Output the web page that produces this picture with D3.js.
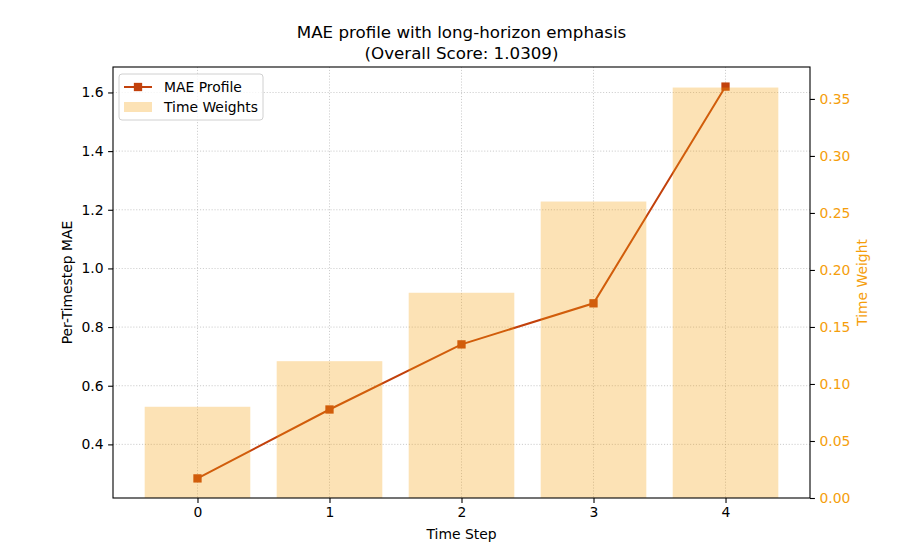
<!DOCTYPE html>
<html>
<head>
<meta charset="utf-8">
<script src="https://cdn.jsdelivr.net/npm/d3@7"></script>
<style>
  body { margin: 0; background: white; }
  text { font-family: "DejaVu Sans", sans-serif; }
</style>
</head>
<body>
<svg id="chart" width="900" height="560"></svg>
<script>
// values
const steps = [0, 1, 2, 3, 4];
const maeProfile = [0.284, 0.519, 0.741, 0.881, 1.620];
const timeWeights = [0.08, 0.12, 0.18, 0.26, 0.36];
const leftTicks = [0.4, 0.6, 0.8, 1.0, 1.2, 1.4, 1.6];
const rightTicks = [0, 0.05, 0.1, 0.15, 0.2, 0.25, 0.3, 0.35];
const overallScore = "1.0309";

var size = { width: 900, height: 560 };
var margin = { top: 67, right: 90, bottom: 62, left: 113 };
var innerW = size.width - margin.left - margin.right;
var innerH = size.height - margin.top - margin.bottom;

var lineColor = "#c2410c";
var barColor = "#f59e0b";
var rightColor = "#f59e0b";

var svg = d3.select("#chart");

var g = svg.append("g")
    .attr("transform", `translate(${margin.left},${margin.top})`);

// matplotlib-like 5% margins
var x = d3.scaleLinear().domain([-0.64, 4.64]).range([0, innerW]);
var maeMin = d3.min(maeProfile), maeMax = d3.max(maeProfile);
var pad = (maeMax - maeMin) * 0.05;
var yLeft = d3.scaleLinear().domain([maeMin - pad, maeMax + pad]).range([innerH, 0]);
var yRight = d3.scaleLinear().domain([0, d3.max(timeWeights) * 1.05]).range([innerH, 0]);

// grid
g.append("g").selectAll("line.hgrid")
    .data(leftTicks)
    .enter()
    .append("line")
    .attr("x1", 0).attr("x2", innerW)
    .attr("y1", d => yLeft(d)).attr("y2", d => yLeft(d))
    .attr("stroke", "#b0b0b0").attr("stroke-width", 0.8)
    .attr("stroke-dasharray", "1.1,1.8").attr("opacity", 0.8);
g.append("g").selectAll("line.vgrid")
    .data(steps)
    .enter()
    .append("line")
    .attr("y1", 0).attr("y2", innerH)
    .attr("x1", d => x(d)).attr("x2", d => x(d))
    .attr("stroke", "#b0b0b0").attr("stroke-width", 0.8)
    .attr("stroke-dasharray", "1.1,1.8").attr("opacity", 0.8);

// MAE line
var line = d3.line()
    .x((d, i) => x(steps[i]))
    .y(d => yLeft(d));

g.append("path")
    .datum(maeProfile)
    .attr("d", line)
    .attr("fill", "none")
    .attr("stroke", lineColor)
    .attr("stroke-width", 2);

var ms = 8.3;
g.selectAll(".marker")
    .data(maeProfile)
    .enter()
    .append("rect")
    .attr("class", "marker")
    .attr("x", (d, i) => x(steps[i]) - ms / 2)
    .attr("y", d => yLeft(d) - ms / 2)
    .attr("width", ms).attr("height", ms)
    .attr("fill", lineColor);

// weight bars, translucent on top like twinx
var barW = x(0.4) - x(-0.4);
g.selectAll(".bar")
    .data(timeWeights)
    .enter()
    .append("rect")
    .attr("class", "bar")
    .attr("x", (d, i) => x(steps[i]) - barW / 2)
    .attr("y", d => yRight(d))
    .attr("width", barW)
    .attr("height", d => innerH - yRight(d))
    .attr("fill", barColor)
    .attr("opacity", 0.3);

// axes
var xAxis = g.append("g")
    .attr("transform", `translate(0,${innerH})`)
    .call(d3.axisBottom(x).tickValues(steps).tickFormat(d3.format("d")).tickSize(4.9).tickPadding(4.5));
var lAxis = g.append("g")
    .call(d3.axisLeft(yLeft).tickValues(leftTicks).tickFormat(d3.format(".1f")).tickSize(4.9).tickPadding(4.5));
var rAxis = g.append("g")
    .attr("transform", `translate(${innerW},0)`)
    .call(d3.axisRight(yRight).tickValues(rightTicks).tickFormat(d3.format(".2f")).tickSize(4.9).tickPadding(4.5));

[xAxis, lAxis, rAxis].forEach(a => {
    a.select(".domain").remove();
    a.selectAll("text").attr("font-size", 13.9).attr("font-family", "DejaVu Sans").attr("fill", "#000");
    a.selectAll("line").attr("stroke", "#000").attr("stroke-width", 1.1);
});
rAxis.selectAll("text").attr("fill", rightColor);

// frame
g.append("rect")
    .attr("width", innerW).attr("height", innerH)
    .attr("fill", "none").attr("stroke", "#000").attr("stroke-width", 1.1);

// labels
svg.append("text")
    .attr("x", margin.left + innerW / 2).attr("y", 38)
    .attr("text-anchor", "middle").attr("font-size", 16.7)
    .text("MAE profile with long-horizon emphasis");
svg.append("text")
    .attr("x", margin.left + innerW / 2).attr("y", 59)
    .attr("text-anchor", "middle").attr("font-size", 16.7)
    .text("(Overall Score: " + overallScore + ")");
svg.append("text")
    .attr("x", margin.left + innerW / 2).attr("y", 539)
    .attr("text-anchor", "middle").attr("font-size", 13.9)
    .text("Time Step");
svg.append("text")
    .attr("transform", `translate(72,${margin.top + innerH / 2}) rotate(-90)`)
    .attr("text-anchor", "middle").attr("font-size", 13.9)
    .text("Per-Timestep MAE");
svg.append("text")
    .attr("transform", `translate(867,${margin.top + innerH / 2}) rotate(-90)`)
    .attr("text-anchor", "middle").attr("font-size", 13.9)
    .attr("fill", rightColor)
    .text("Time Weight");

// legend
var legend = g.append("g").attr("transform", "translate(6,7)");
legend.append("rect")
    .attr("width", 144).attr("height", 46).attr("rx", 3)
    .attr("fill", "white").attr("fill-opacity", 0.8)
    .attr("stroke", "#d0d0d0").attr("stroke-width", 1);
legend.append("line")
    .attr("x1", 5).attr("x2", 33).attr("y1", 13).attr("y2", 13)
    .attr("stroke", lineColor).attr("stroke-width", 2);
legend.append("rect")
    .attr("x", 19 - ms / 2).attr("y", 13 - ms / 2).attr("width", ms).attr("height", ms)
    .attr("fill", lineColor);
legend.append("text")
    .attr("x", 45).attr("y", 18).attr("font-size", 13.9)
    .text("MAE Profile");
legend.append("rect")
    .attr("x", 5).attr("y", 28).attr("width", 28).attr("height", 10)
    .attr("fill", barColor).attr("opacity", 0.3);
legend.append("text")
    .attr("x", 45).attr("y", 38).attr("font-size", 13.9)
    .text("Time Weights");
</script>
</body>
</html>
